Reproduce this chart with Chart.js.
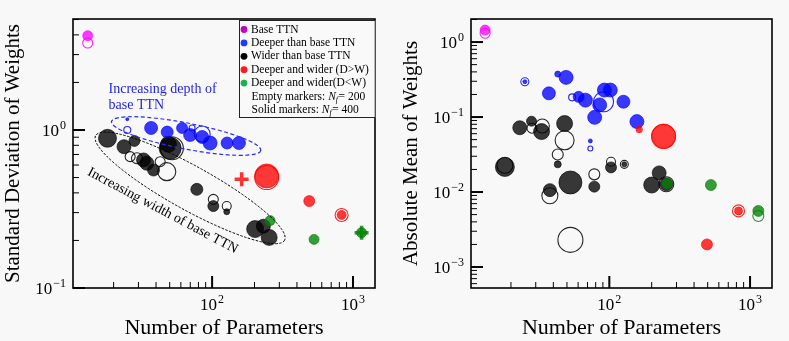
<!DOCTYPE html>
<html>
<head>
<meta charset="utf-8">
<script src="https://cdn.jsdelivr.net/npm/chart.js@4.4.0/dist/chart.umd.min.js"></script>
<style>
html, body { margin: 0; padding: 0; background: #f8f8f8; }
#wrap { position: relative; width: 789px; height: 341px; }
canvas { position: absolute; left: 0; top: 0; }
</style>
</head>
<body>
<div id="wrap">
<canvas id="stdChart" width="789" height="341"></canvas>
<canvas id="meanChart" width="789" height="341"></canvas>
</div>
<script>
// rows are [number of parameters, value, marker radius]
// left panel: standard deviation of weights
const baseStdSolid = [[13.1, 3.95, 5]];
const baseStdEmpty = [[13.1, 3.55, 5]];
const deeperStdSolid = [[25, 1.17, 1.5], [36.9, 1.03, 6.5], [48, 0.97, 6], [61.2, 1.03, 5.5], [69.8, 0.93, 6.5],
  [85, 0.903, 6.5], [96.8, 0.827, 7], [127.7, 0.827, 6], [155, 0.827, 6.5]];
const deeperStdEmpty = [[25, 1.0, 3.5], [72.1, 1.03, 3], [85, 0.943, 8]];
const widerStdSolid = [[18.1, 0.886, 9], [23.7, 0.784, 7], [28.1, 0.852, 5.5], [32.6, 0.646, 7], [34.4, 0.616, 7],
  [38.4, 0.558, 6], [50.4, 0.766, 11], [49, 0.812, 8], [77.9, 0.421, 6], [102, 0.33, 5.5], [127, 0.304, 3],
  [202, 0.236, 8.5], [231, 0.246, 7], [254, 0.209, 8]];
const widerStdEmpty = [[26.2, 0.678, 5], [29.3, 0.662, 5.5], [42.8, 0.63, 5], [47.7, 0.545, 9], [51.8, 0.766, 11.5],
  [102, 0.364, 5], [127, 0.33, 4.5]];
const dwStdSolid = [[244, 0.512, 12], [489, 0.355, 5.5], [830, 0.29, 4.5]];
const dwStdEmpty = [[244, 0.5, 12], [830, 0.29, 6.5]];
const dwStdCross = [[162, 0.488, 7]];
const wdStdSolid = [[258, 0.267, 5], [529, 0.203, 5], [1150, 0.224, 5]];
const wdStdCross = [[1150, 0.224, 7]];

// right panel: absolute mean of weights
const baseMeanSolid = [[13.1, 1.445, 5]];
const baseMeanEmpty = [[13.1, 1.31, 5]];
const deeperMeanSolid = [[25.1, 0.296, 2], [43, 0.374, 3], [49.3, 0.338, 7], [37.2, 0.207, 6.5], [60.5, 0.186, 5.5],
  [67.6, 0.168, 7], [92.2, 0.229, 7], [101.6, 0.229, 7], [85.4, 0.145, 7], [78.7, 0.099, 7], [73.3, 0.048, 2],
  [126, 0.16, 6.5], [157, 0.087, 7]];
const deeperMeanEmpty = [[25.1, 0.296, 4], [54.4, 0.183, 3.5], [91, 0.16, 10], [73.3, 0.038, 2.5]];
const widerMeanSolid = [[18.1, 0.0216, 9.5], [23.1, 0.072, 7], [28, 0.088, 5], [33, 0.064, 8], [48.1, 0.082, 8],
  [43, 0.0234, 3.5], [52.9, 0.0134, 11.5], [37.8, 0.0106, 6.5], [78.2, 0.0118, 5.5], [102.8, 0.0213, 5.5],
  [127.8, 0.0234, 2.5], [226, 0.018, 7], [200, 0.0124, 8], [254, 0.0127, 6.5]];
const widerMeanEmpty = [[18.1, 0.0228, 8], [28.2, 0.071, 5], [33.4, 0.076, 7], [48.1, 0.049, 9.5], [43, 0.0316, 5.5],
  [37.8, 0.0089, 8], [52.9, 0.0023, 12.5], [78.2, 0.0172, 5.5], [102.8, 0.0253, 4.5], [127.8, 0.0234, 4],
  [254, 0.0127, 7.5]];
const dwMeanSolid = [[243, 0.056, 12], [163, 0.068, 2], [494, 0.002, 5.5], [828, 0.0056, 4]];
const dwMeanEmpty = [[243, 0.055, 12], [163, 0.068, 3], [828, 0.0056, 6]];
const wdMeanSolid = [[258, 0.013, 5], [527, 0.0124, 5.5], [1145, 0.0056, 5.5]];
const wdMeanEmpty = [[1145, 0.0048, 5.5]];

// labelled ticks
const paramTicks = [1e2, 1e3];
const stdTicks = [1e-1, 1e0];
const meanTicks = [1e-3, 1e-2, 1e-1, 1e0];

const legendLabels = ['Base TTN', 'Deeper than base TTN', 'Wider than base TTN',
  'Deeper and wider (D>W)', 'Deeper and wider(D<W)'];
const legendColors = ['#bf00bf', '#1a3cff', '#000000', '#ff1a1a', '#1db050'];

const SERIF = '"Liberation Serif", "DejaVu Serif", serif';
const MAGENTA = [255, 0, 255], BLUE = [0, 0, 255], BLACK = [0, 0, 0], RED = [255, 0, 0], GREEN = [0, 128, 0];

function rgba(c, a) { return 'rgba(' + c[0] + ',' + c[1] + ',' + c[2] + ',' + a + ')'; }

function series(rows, color, solid, extra) {
  return Object.assign({
    data: rows.map(r => ({x: r[0], y: r[1], r: r[2]})),
    backgroundColor: solid ? rgba(color, 0.78) : 'rgba(0,0,0,0)',
    borderColor: rgba(color, solid ? 0.78 : 0.85),
    borderWidth: solid ? 0.8 : 1.1
  }, extra || {});
}

function cross(rows, color) {
  return series(rows, color, true, {pointStyle: 'cross', borderWidth: 3.5, borderColor: rgba(color, 0.8)});
}

function line(ctx, x1, y1, x2, y2, w) {
  ctx.lineWidth = w;
  ctx.beginPath(); ctx.moveTo(x1, y1); ctx.lineTo(x2, y2); ctx.stroke();
}

function logTicks(scale, draw) {
  const lo = Math.floor(Math.log10(scale.min)), hi = Math.ceil(Math.log10(scale.max));
  for (let e = lo; e <= hi; e++) {
    for (let k = 1; k < 10; k++) {
      const v = k * Math.pow(10, e);
      if (v < scale.min * 0.999 || v > scale.max * 1.001) continue;
      const p = scale.getPixelForValue(v);
      if (k === 1) draw(p, 12, 2); else draw(p, 6, 1);
    }
  }
}

function powLabel(ctx, v, x, y, align) {
  const e = Math.round(Math.log10(v));
  const sup = e < 0 ? '\u2212' + (-e) : String(e);
  ctx.font = '17px ' + SERIF;
  const wb = ctx.measureText('10').width;
  ctx.font = '12px ' + SERIF;
  const ws = ctx.measureText(sup).width;
  const w = wb + 1 + ws;
  const x0 = align === 'right' ? x - w : x - w / 2;
  ctx.textAlign = 'left';
  ctx.textBaseline = 'alphabetic';
  ctx.font = '17px ' + SERIF;
  ctx.fillText('10', x0, y);
  ctx.font = '12px ' + SERIF;
  ctx.fillText(sup, x0 + wb + 1, y - 7);
}

function axesPlugin(cfg) {
  return {
    id: 'axes',
    afterDatasetsDraw(chart) {
      const ctx = chart.ctx, a = chart.chartArea, xs = chart.scales.x, ys = chart.scales.y;
      ctx.save();
      ctx.strokeStyle = '#000';
      logTicks(xs, (p, len, w) => line(ctx, p, a.bottom, p, a.bottom - len, w));
      logTicks(ys, (p, len, w) => line(ctx, a.left, p, a.left + len, p, w));
      ctx.lineWidth = 1.6;
      ctx.strokeRect(a.left, a.top, a.right - a.left, a.bottom - a.top);

      ctx.fillStyle = '#000';
      paramTicks.forEach(v => powLabel(ctx, v, xs.getPixelForValue(v), a.bottom + 22, 'center'));
      cfg.yTicks.forEach(v => powLabel(ctx, v, a.left - 7, ys.getPixelForValue(v) + 6, 'right'));

      ctx.font = '22px ' + SERIF;
      ctx.textAlign = 'center';
      ctx.textBaseline = 'alphabetic';
      ctx.fillText('Number of Parameters', (a.left + a.right) / 2, a.bottom + 46);
      ctx.save();
      ctx.translate(a.left - cfg.yTitleGap, (a.top + a.bottom) / 2);
      ctx.rotate(-Math.PI / 2);
      ctx.textBaseline = 'middle';
      ctx.font = '21px ' + SERIF;
      ctx.fillText(cfg.yTitle, 0, 0);
      ctx.restore();

      if (cfg.extra) cfg.extra(chart, ctx, a);
      ctx.restore();
    }
  };
}

function dashedEllipse(ctx, chart, cx, cy, rx, ry, deg, color, dash, w) {
  const x = chart.scales.x.getPixelForValue(cx), y = chart.scales.y.getPixelForValue(cy);
  ctx.save();
  ctx.strokeStyle = color;
  ctx.lineWidth = w;
  ctx.setLineDash(dash);
  ctx.beginPath();
  ctx.ellipse(x, y, rx, ry, deg * Math.PI / 180, 0, 2 * Math.PI);
  ctx.stroke();
  ctx.restore();
}

function leftExtras(chart, ctx, a) {
  const xs = chart.scales.x, ys = chart.scales.y;
  dashedEllipse(ctx, chart, 65.4, 0.916, 76, 13, 11, '#2a2aff', [4, 2.5], 1.2);
  dashedEllipse(ctx, chart, 69.8, 0.43, 108, 22, 29, '#000', [2.5, 1.5], 1);

  ctx.font = '14px ' + SERIF;
  ctx.fillStyle = 'rgb(30,30,235)';
  ctx.textAlign = 'left';
  ctx.textBaseline = 'alphabetic';
  ctx.fillText('Increasing depth of', xs.getPixelForValue(18.4), ys.getPixelForValue(1.72));
  ctx.fillText('base TTN', xs.getPixelForValue(18.4), ys.getPixelForValue(1.35));

  ctx.save();
  ctx.fillStyle = '#000';
  ctx.translate(xs.getPixelForValue(44.6), ys.getPixelForValue(0.308));
  ctx.rotate(28 * Math.PI / 180);
  ctx.textAlign = 'center';
  ctx.textBaseline = 'middle';
  ctx.fillText('Increasing width of base TTN', 0, 0);
  ctx.restore();

  // legend box in the upper right corner
  const bx = a.right - 136, by = a.top + 1, bw = 136.7, bh = 98;
  ctx.fillStyle = '#f9f9f9';
  ctx.fillRect(bx, by, bw, bh);
  ctx.strokeStyle = '#222';
  ctx.lineWidth = 1;
  ctx.strokeRect(bx + 0.5, by + 0.5, bw - 1, bh - 1);
  ctx.font = '11.5px ' + SERIF;
  ctx.textBaseline = 'middle';
  ctx.textAlign = 'left';
  const row = i => by + 9.5 + i * 13.4;
  legendLabels.forEach((t, i) => {
    ctx.fillStyle = legendColors[i];
    ctx.beginPath(); ctx.arc(bx + 5, row(i), 3.4, 0, 2 * Math.PI); ctx.fill();
    ctx.fillStyle = '#000';
    ctx.fillText(t, bx + 12, row(i));
  });
  [['Empty markers: ', '200'], ['Solid markers: ', '400']].forEach((p, j) => {
    const y = row(5 + j);
    let x = bx + 12.5;
    ctx.font = '11.5px ' + SERIF;
    ctx.fillText(p[0], x, y); x += ctx.measureText(p[0]).width;
    ctx.font = 'italic 11.5px ' + SERIF;
    ctx.fillText('N', x, y); x += ctx.measureText('N').width;
    ctx.font = 'italic 8px ' + SERIF;
    ctx.fillText('f', x, y + 3); x += ctx.measureText('f').width + 0.5;
    ctx.font = '11.5px ' + SERIF;
    ctx.fillText('= ' + p[1], x, y);
  });
}

function makeChart(id, cfg) {
  return new Chart(document.getElementById(id), {
    type: 'bubble',
    data: {datasets: cfg.datasets},
    options: {
      responsive: false,
      animation: false,
      events: [],
      layout: {padding: cfg.padding},
      plugins: {legend: {display: false}, tooltip: {enabled: false}},
      scales: {
        x: {type: 'logarithmic', min: cfg.xMin, max: cfg.xMax, display: false},
        y: {type: 'logarithmic', min: cfg.yMin, max: cfg.yMax, display: false}
      }
    },
    plugins: [axesPlugin(cfg)]
  });
}

const stdChart = makeChart('stdChart', {
  padding: {left: 73, top: 19, right: 414, bottom: 53},
  xMin: 10.3, xMax: 1432, yMin: 0.1, yMax: 5.04,
  yTicks: stdTicks, yTitle: 'Standard Deviation of Weights', yTitleGap: 60,
  extra: leftExtras,
  datasets: [
    cross(dwStdCross, RED), cross(wdStdCross, GREEN),
    series(wdStdSolid, GREEN, true),
    series(dwStdEmpty, RED, false), series(dwStdSolid, RED, true),
    series(deeperStdEmpty, BLUE, false), series(deeperStdSolid, BLUE, true),
    series(widerStdEmpty, BLACK, false), series(widerStdSolid, BLACK, true),
    series(baseStdEmpty, MAGENTA, false), series(baseStdSolid, MAGENTA, true)
  ]
});

const meanChart = makeChart('meanChart', {
  padding: {left: 471, top: 19, right: 17, bottom: 53},
  xMin: 10.4, xMax: 1432, yMin: 5.25e-4, yMax: 2.03,
  yTicks: meanTicks, yTitle: 'Absolute Mean of Weights', yTitleGap: 60,
  datasets: [
    series(wdMeanEmpty, GREEN, false), series(wdMeanSolid, GREEN, true),
    series(dwMeanEmpty, RED, false), series(dwMeanSolid, RED, true),
    series(deeperMeanEmpty, BLUE, false), series(deeperMeanSolid, BLUE, true),
    series(widerMeanEmpty, BLACK, false), series(widerMeanSolid, BLACK, true),
    series(baseMeanEmpty, MAGENTA, false), series(baseMeanSolid, MAGENTA, true)
  ]
});
</script>
</body>
</html>
